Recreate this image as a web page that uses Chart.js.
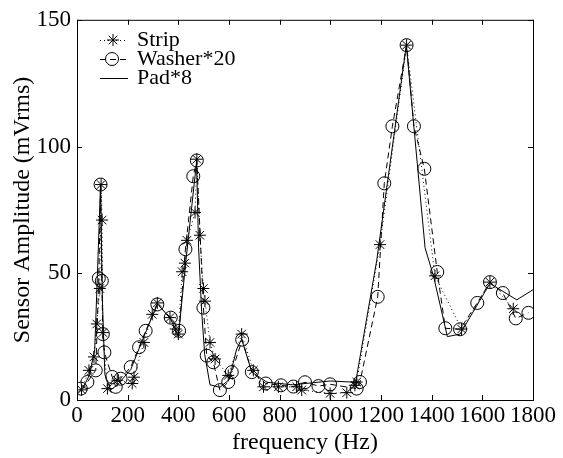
<!DOCTYPE html>
<html>
<head>
<meta charset="utf-8">
<script src="https://cdn.jsdelivr.net/npm/chart.js@4.4.0/dist/chart.umd.min.js"></script>
<style>
  html, body { margin: 0; padding: 0; background: #fff; }
  #wrap { width: 563px; height: 458px; }
</style>
</head>
<body>
<div id="wrap"><canvas id="chart" width="563" height="458"></canvas></div>
<script>
const xTicks = [0, 200, 400, 600, 800, 1000, 1200, 1400, 1600, 1800];
const yTicks = [0, 50, 100, 150];

const stripFreq = [18, 47, 67, 78, 90, 95, 99, 102, 120, 159, 218, 225, 264, 297, 317, 367, 390, 400, 415, 426, 434, 466, 473, 485, 499, 505, 525, 545, 597, 650, 696, 736, 795, 867, 887, 999, 1065, 1097, 1104, 1196, 1301, 1413, 1518, 1630, 1722];
const stripAmp = [4, 11.7, 17, 30, 44, 85, 71, 26.6, 4.5, 7.8, 6.5, 9, 22.7, 33.8, 38.3, 32.5, 28, 26, 50.6, 54, 63, 74, 95, 65, 44, 39, 22.7, 16.2, 9.7, 26, 11.7, 5.2, 5.2, 5.2, 3.9, 2.6, 2.9, 5.8, 7.1, 61.3, 140, 49, 28, 46.5, 36];

const washerFreq = [15, 41, 74, 86, 93, 98, 102, 108, 139, 153, 172, 212, 245, 271, 317, 370, 403, 428, 459, 473, 499, 512, 538, 564, 597, 611, 652, 690, 745, 805, 854, 900, 953, 999, 1104, 1117, 1187, 1213, 1245, 1301, 1330, 1371, 1422, 1454, 1512, 1580, 1630, 1681, 1732, 1782];
const washerAmp = [4.5, 7.1, 11.7, 48, 85, 47, 26, 18.8, 9.1, 5.2, 8.4, 13, 20.8, 27.3, 37.7, 32.5, 27.3, 59.5, 88.3, 94.5, 36.4, 17.5, 14.9, 3.9, 7.1, 11, 23.8, 11, 6.5, 5.8, 5.3, 7, 5.5, 6.2, 4.5, 7.1, 40.7, 85.5, 108, 140, 108, 91.2, 50.5, 28.3, 27.9, 38.3, 46.5, 42.2, 32.2, 34.4];

const padFreq = [5, 25, 50, 70, 80, 93, 100, 110, 133, 160, 212, 260, 317, 370, 400, 430, 472, 480, 492, 504, 525, 564, 600, 630, 650, 690, 750, 850, 1000, 1100, 1183, 1300, 1374, 1407, 1462, 1512, 1630, 1736, 1800];
const padAmp = [3, 5, 10, 20, 48, 85, 40, 10, 4, 6, 12, 24, 38, 32, 25, 55, 94, 60, 35, 18, 6, 5, 8, 20, 24, 11, 7, 6, 7.5, 7, 55, 140, 60, 49, 25, 26, 46, 39.5, 43.5];

const serif = '"Liberation Serif", "DejaVu Serif", serif';

function toPoints(xs, ys) {
  return xs.map((x, i) => ({ x, y: ys[i] }));
}

// MATLAB style box with ticks pointing inward
const boxPlugin = {
  id: 'box',
  afterDraw(chart) {
    const { ctx, chartArea: a, scales } = chart;
    ctx.save();
    ctx.strokeStyle = '#000';
    ctx.lineWidth = 1;
    ctx.strokeRect(a.left + 0.5, a.top + 0.5, a.right - a.left, a.bottom - a.top);
    ctx.beginPath();
    xTicks.forEach((v) => {
      const px = Math.round(scales.x.getPixelForValue(v)) + 0.5;
      ctx.moveTo(px, a.bottom);
      ctx.lineTo(px, a.bottom - 5);
      ctx.moveTo(px, a.top);
      ctx.lineTo(px, a.top + 5);
    });
    yTicks.forEach((v) => {
      const py = Math.round(scales.y.getPixelForValue(v)) + 0.5;
      ctx.moveTo(a.left, py);
      ctx.lineTo(a.left + 5, py);
      ctx.moveTo(a.right, py);
      ctx.lineTo(a.right - 5, py);
    });
    ctx.stroke();
    ctx.restore();
  },
};

function drawStar(ctx, x, y, r) {
  ctx.beginPath();
  for (let k = 0; k < 4; k += 1) {
    const ang = (k * Math.PI) / 4;
    ctx.moveTo(x - r * Math.cos(ang), y - r * Math.sin(ang));
    ctx.lineTo(x + r * Math.cos(ang), y + r * Math.sin(ang));
  }
  ctx.stroke();
}

const legendPlugin = {
  id: 'matlabLegend',
  afterDraw(chart) {
    const { ctx } = chart;
    const rows = [
      { label: 'Strip', y: 40, dash: [1, 3], marker: 'star' },
      { label: 'Washer*20', y: 59, dash: [6, 4], marker: 'circle' },
      { label: 'Pad*8', y: 78, dash: [], marker: null },
    ];
    ctx.save();
    ctx.strokeStyle = '#000';
    ctx.fillStyle = '#000';
    ctx.lineWidth = 1;
    rows.forEach((row) => {
      ctx.setLineDash(row.dash);
      ctx.beginPath();
      ctx.moveTo(100, row.y + 0.5);
      ctx.lineTo(128, row.y + 0.5);
      ctx.stroke();
      ctx.setLineDash([]);
      if (row.marker === 'star') drawStar(ctx, 113, row.y, 6);
      if (row.marker === 'circle') {
        ctx.beginPath();
        ctx.arc(112, row.y, 6.5, 0, Math.PI * 2);
        ctx.stroke();
      }
      ctx.font = '22px ' + serif;
      ctx.textBaseline = 'middle';
      ctx.fillText(row.label, 137, row.y);
    });
    ctx.restore();
  },
};

new Chart(document.getElementById('chart'), {
  type: 'scatter',
  data: {
    datasets: [
      {
        label: 'Strip',
        data: toPoints(stripFreq, stripAmp),
        showLine: true,
        borderColor: '#000',
        borderWidth: 1,
        borderDash: [1, 3],
        pointStyle: 'star',
        pointRadius: 6,
        pointBorderColor: '#000',
        pointBorderWidth: 1,
        pointBackgroundColor: 'rgba(0,0,0,0)',
      },
      {
        label: 'Washer*20',
        data: toPoints(washerFreq, washerAmp),
        showLine: true,
        borderColor: '#000',
        borderWidth: 1,
        borderDash: [6, 4],
        pointStyle: 'circle',
        pointRadius: 6.5,
        pointBorderColor: '#000',
        pointBorderWidth: 1,
        pointBackgroundColor: 'rgba(0,0,0,0)',
      },
      {
        label: 'Pad*8',
        data: toPoints(padFreq, padAmp),
        showLine: true,
        borderColor: '#000',
        borderWidth: 1,
        pointRadius: 0,
      },
    ],
  },
  options: {
    responsive: false,
    animation: false,
    layout: { padding: { top: 15, right: 30, left: 0, bottom: 0 } },
    plugins: {
      legend: { display: false },
      tooltip: { enabled: false },
    },
    scales: {
      x: {
        type: 'linear',
        min: 0,
        max: 1800,
        afterFit: (s) => { s.height = 58; },
        afterBuildTicks: (s) => { s.ticks = xTicks.map((v) => ({ value: v })); },
        grid: { display: false, drawTicks: false },
        border: { display: false },
        ticks: { color: '#000', font: { family: serif, size: 23 }, padding: 2, maxRotation: 0, autoSkip: false, callback: (v) => String(v) },
        title: { display: true, text: 'frequency (Hz)', color: '#000', font: { family: serif, size: 24 }, padding: { top: 0, bottom: 1 } },
      },
      y: {
        type: 'linear',
        min: 0,
        max: 150,
        afterFit: (s) => { s.width = 77; },
        afterBuildTicks: (s) => { s.ticks = yTicks.map((v) => ({ value: v })); },
        grid: { display: false, drawTicks: false },
        border: { display: false },
        ticks: { color: '#000', font: { family: serif, size: 23 }, padding: 6, callback: (v) => String(v) },
        title: { display: true, text: 'Sensor Amplitude (mVrms)', color: '#000', font: { family: serif, size: 24 }, padding: { top: 8, bottom: 0 } },
      },
    },
  },
  plugins: [boxPlugin, legendPlugin],
});
</script>
</body>
</html>
